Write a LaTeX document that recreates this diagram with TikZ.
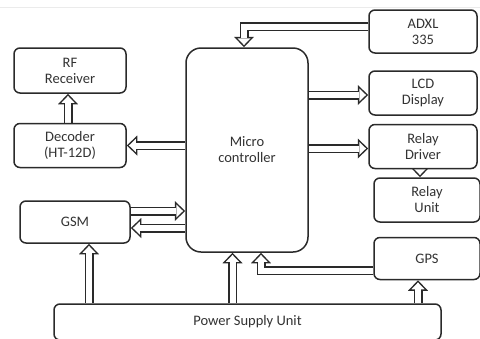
\documentclass[tikz,border=0pt]{standalone}
\usepackage{fontspec}
\setmainfont{Carlito}
\usetikzlibrary{arrows.meta, positioning, backgrounds}
\definecolor{linegray}{HTML}{2A2A2A}
\definecolor{textgray}{HTML}{333333}
\tikzset{
  block/.style={
    rectangle, rounded corners=6pt,
    draw=linegray, line width=1.5pt, fill=white,
    align=center, inner sep=0pt,
    font=\fontsize{14.5}{16}\selectfont, text=textgray,
  },
  boxsize/.style 2 args={minimum width=#1pt, minimum height=#2pt},
  blockarrow/.style={
    draw=white, line width=6pt, line join=miter,
    -{Triangle[length=6.8pt, width=13pt, line width=0pt]}, shorten >=2.2pt,
    preaction={draw=linegray, line width=9pt, shorten >=0pt,
      -{Triangle[length=10.5pt, width=20pt, line width=0pt]}},
  },
}
\begin{document}
\begin{tikzpicture}[x=1pt, y=-1pt]
  \useasboundingbox (0,0) rectangle (480,338);
  \draw[black!8, line width=0.8pt] (0,7) -- (480,7);

  \node[block, boxsize={112}{45}] (rf) at (70,70.5) {RF\\Receiver};
  \node[block, boxsize={112}{44}, below=29pt of rf] (dec) {Decoder\\(HT-12D)};
  \node[block, boxsize={110}{42}] (gsm) at (75,222) {GSM};
  \node[block, rounded corners=15pt, boxsize={122}{204}] (mcu) at (247,150) {Micro\\controller};
  \node[block, boxsize={108}{43}] (adxl) at (423,31.5) {ADXL\\335};
  \node[block, boxsize={108}{44}, below=16.5pt of adxl] (lcd) {LCD\\Display};
  \node[block, boxsize={108}{44}, below=8pt of lcd] (drv) {Relay\\Driver};
  \node[block, boxsize={106}{44}] (unit) at (427,200) {Relay\\Unit};
  \node[block, boxsize={106}{42}, below=14pt of unit] (gps) {GPS};
  \node[block, boxsize={387}{36}] (psu) at (247.5,322) {Power Supply Unit};

  \begin{scope}[on background layer]
    \draw[blockarrow] ([xshift=-2pt]dec.north) -- ([xshift=-2pt]rf.south);
    \draw[blockarrow] (mcu.west |- dec.east) -- (dec.east);
    \coordinate (adxlout) at ([yshift=5pt]adxl.west);
    \coordinate (adxlin) at ([xshift=-3pt]mcu.north);
    \draw[blockarrow] (adxlout) -| (adxlin);
    \coordinate (lcdin) at ([yshift=-2pt]lcd.west);
    \draw[blockarrow] (mcu.east |- lcdin) -- (lcdin);
    \coordinate (drvin) at ([yshift=-2pt]drv.west);
    \draw[blockarrow] (mcu.east |- drvin) -- (drvin);
    \coordinate (drvout) at ([xshift=-3pt]drv.south);
    \draw[blockarrow] (drvout) -- (drvout |- unit.north);
    \coordinate (gsmout) at ([yshift=11pt]gsm.east);
    \draw[blockarrow] (gsmout) -- (gsmout -| mcu.west);
    \coordinate (gsmin) at ([yshift=-6pt]gsm.east);
    \draw[blockarrow] (gsmin -| mcu.west) -- (gsmin);
    \coordinate (gsmpwr) at ([xshift=14pt]gsm.south);
    \draw[blockarrow] (gsmpwr |- psu.north) -- (gsmpwr);
    \coordinate (mcupwr) at ([xshift=-14.5pt]mcu.south);
    \draw[blockarrow] (mcupwr |- psu.north) -- (mcupwr);
    \coordinate (gpsout) at ([yshift=-12pt]gps.west);
    \coordinate (gpsin) at ([xshift=14pt]mcu.south);
    \draw[blockarrow] (gpsout) -| (gpsin);
    \coordinate (gpspwr) at ([xshift=-9pt]gps.south);
    \draw[blockarrow] (gpspwr |- psu.north) -- (gpspwr);
  \end{scope}
\end{tikzpicture}
\end{document}
